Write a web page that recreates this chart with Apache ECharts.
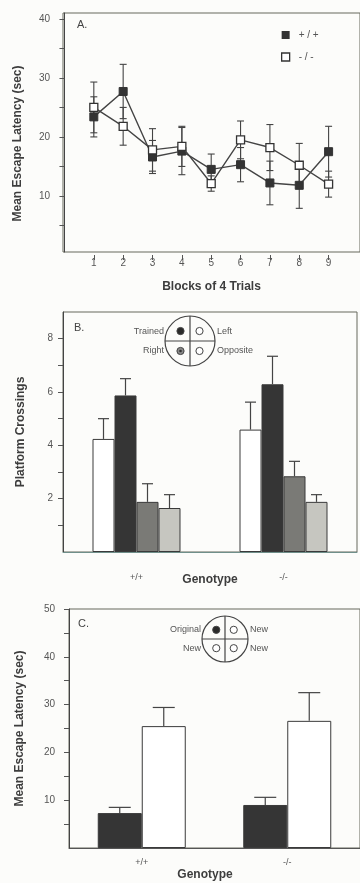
<!DOCTYPE html>
<html><head><meta charset="utf-8">
<script src="https://cdn.jsdelivr.net/npm/echarts@6/dist/echarts.min.js"></script>
<style>html,body{margin:0;padding:0;background:#fcfcfa}#c{width:360px;height:883px}</style>
</head><body><div id="c"></div>
<script>
// ---- Panel A data ----
const blocks = [1, 2, 3, 4, 5, 6, 7, 8, 9];
const wtLatency = [23.4, 27.7, 16.6, 17.6, 14.5, 15.3, 12.2, 11.8, 17.5];
const wtSem     = [3.4, 4.6, 2.8, 4.0, 2.6, 2.9, 3.7, 3.9, 4.3];
const koLatency = [25.0, 21.8, 17.8, 18.4, 12.1, 19.5, 18.2, 15.2, 12.0];
const koSem     = [4.3, 3.2, 3.6, 3.4, 1.3, 3.2, 3.9, 3.7, 2.2];
const aTicks = [5, 10, 15, 20, 25, 30, 35, 40];
const aLabels = [10, 20, 30, 40];
// ---- Panel B data ----
const genotypes = ['+/+', '-/-'];
const quadrants = ['Left', 'Trained', 'Right', 'Opposite'];
const crossMean = [[4.24, 4.59], [5.87, 6.29], [1.88, 2.84], [1.65, 1.88]];
const crossSem  = [[0.76, 1.03], [0.63, 1.05], [0.68, 0.56], [0.50, 0.27]];
const bTicks = [1, 2, 3, 4, 5, 6, 7, 8];
const bLabels = [2, 4, 6, 8];
// ---- Panel C data ----
const platforms = ['Original', 'New'];
const latMean = [[7.3, 9.0], [25.5, 26.6]];
const latSem  = [[1.2, 1.6], [3.9, 5.9]];
const cTicks = [5, 10, 15, 20, 25, 30, 35, 40, 45, 50];
const cLabels = [10, 20, 30, 40, 50];

const FRAME = '#66695c';
const labelStyle = { fontSize: 10, color: '#555', fontFamily: 'Liberation Sans, Arial' };
const nameStyle = { fontSize: 12, fontWeight: 'bold', color: '#3d3d3d', fontFamily: 'Liberation Sans, Arial' };

function errA(capHalf) {
  return function (params, api) {
    const x = api.value(0), m = api.value(1), e = api.value(2);
    const t = api.coord([x, m + e]), b = api.coord([x, m - e]);
    const st = { stroke: '#444', lineWidth: 1.1 };
    return { type: 'group', children: [
      { type: 'line', shape: { x1: t[0], y1: t[1], x2: b[0], y2: b[1] }, style: st },
      { type: 'line', shape: { x1: t[0] - capHalf, y1: t[1], x2: t[0] + capHalf, y2: t[1] }, style: st },
      { type: 'line', shape: { x1: b[0] - capHalf, y1: b[1], x2: b[0] + capHalf, y2: b[1] }, style: st }
    ]};
  };
}
function errUp(offset, capHalf) {
  return function (params, api) {
    const x = api.value(0), m = api.value(1), e = api.value(2);
    const t = api.coord([x, m + e]), b = api.coord([x, m]);
    const cx = t[0] + offset;
    const st = { stroke: '#444', lineWidth: 1.2 };
    return { type: 'group', children: [
      { type: 'line', shape: { x1: cx, y1: t[1], x2: cx, y2: b[1] }, style: st },
      { type: 'line', shape: { x1: cx - capHalf, y1: t[1], x2: cx + capHalf, y2: t[1] }, style: st }
    ]};
  };
}

const series = [];
// Panel A
series.push({ type: 'custom', name: 'errWT', xAxisIndex: 0, yAxisIndex: 0, z: 2,
  data: blocks.map((b, i) => [b, wtLatency[i], wtSem[i]]), renderItem: errA(3.5), encode: { x: 0, y: 1 } });
series.push({ type: 'custom', name: 'errKO', xAxisIndex: 0, yAxisIndex: 0, z: 2,
  data: blocks.map((b, i) => [b, koLatency[i], koSem[i]]), renderItem: errA(3.5), encode: { x: 0, y: 1 } });
series.push({ type: 'line', name: '+ / +', xAxisIndex: 0, yAxisIndex: 0, z: 5,
  data: blocks.map((b, i) => [b, wtLatency[i]]), symbol: 'rect', symbolSize: 8,
  lineStyle: { color: '#444', width: 1.4 }, itemStyle: { color: '#333', borderColor: '#333' } });
series.push({ type: 'line', name: '- / -', xAxisIndex: 0, yAxisIndex: 0, z: 6,
  data: blocks.map((b, i) => [b, koLatency[i]]), symbol: 'rect', symbolSize: 8,
  lineStyle: { color: '#444', width: 1.4 }, itemStyle: { color: '#fff', borderColor: '#333', borderWidth: 1.3 } });
// Panel B
const bFill = ['#ffffff', '#353535', '#7a7a76', '#c6c6c0'];
const bW = 22;
quadrants.forEach((q, k) => {
  series.push({ type: 'bar', name: q, xAxisIndex: 1, yAxisIndex: 1, data: crossMean[k],
    barWidth: bW, barGap: '0%', itemStyle: { color: bFill[k], borderColor: '#3a3a3a', borderWidth: 1 } });
});
quadrants.forEach((q, k) => {
  series.push({ type: 'custom', name: 'err' + q, xAxisIndex: 1, yAxisIndex: 1, z: 3,
    data: genotypes.map((g, i) => [i, crossMean[k][i], crossSem[k][i]]),
    renderItem: errUp((k - 1.5) * bW, 5.5), encode: { x: 0, y: 1 } });
});
// Panel C
const cFill = ['#353535', '#ffffff'];
const cW = 44;
platforms.forEach((p, k) => {
  series.push({ type: 'bar', name: p, xAxisIndex: 2, yAxisIndex: 2, data: latMean[k],
    barWidth: cW, barGap: '0%', itemStyle: { color: cFill[k], borderColor: '#3a3a3a', borderWidth: 1 } });
});
platforms.forEach((p, k) => {
  series.push({ type: 'custom', name: 'err' + p, xAxisIndex: 2, yAxisIndex: 2, z: 3,
    data: genotypes.map((g, i) => [i, latMean[k][i], latSem[k][i]]),
    renderItem: errUp((k - 0.5) * cW, 11), encode: { x: 0, y: 1 } });
});

function inset(cx, cy, r, labels, fills) {
  const els = [
    { type: 'circle', shape: { cx, cy, r }, style: { fill: 'none', stroke: '#444', lineWidth: 1.2 } },
    { type: 'line', shape: { x1: cx - r, y1: cy, x2: cx + r, y2: cy }, style: { stroke: '#444', lineWidth: 1.2 } },
    { type: 'line', shape: { x1: cx, y1: cy - r, x2: cx, y2: cy + r }, style: { stroke: '#444', lineWidth: 1.2 } }
  ];
  const d = r * 0.38;
  const pos = [[cx - d, cy - d * 1.05], [cx + d, cy - d * 1.05], [cx - d, cy + d * 1.05], [cx + d, cy + d * 1.05]];
  pos.forEach((p, i) => {
    els.push({ type: 'circle', shape: { cx: p[0], cy: p[1], r: 3.6 }, style: { fill: fills[i], stroke: '#444', lineWidth: 1 } });
    if (fills[i] === '#888') els.push({ type: 'circle', shape: { cx: p[0], cy: p[1], r: 1.3 }, style: { fill: '#333' } });
  });
  const ts = { fontSize: 9, fill: '#555', fontFamily: 'Liberation Sans, Arial' };
  els.push({ type: 'text', x: cx - r - 1, y: cy - d * 1.05, style: Object.assign({ text: labels[0], align: 'right', verticalAlign: 'middle' }, ts) });
  els.push({ type: 'text', x: cx + r + 2, y: cy - d * 1.05, style: Object.assign({ text: labels[1], align: 'left', verticalAlign: 'middle' }, ts) });
  els.push({ type: 'text', x: cx - r - 1, y: cy + d * 1.05, style: Object.assign({ text: labels[2], align: 'right', verticalAlign: 'middle' }, ts) });
  els.push({ type: 'text', x: cx + r + 2, y: cy + d * 1.05, style: Object.assign({ text: labels[3], align: 'left', verticalAlign: 'middle' }, ts) });
  return els;
}

const graphics = [].concat(
  inset(190, 341, 25, ['Trained', 'Left', 'Right', 'Opposite'], ['#2a2a2a', '#fff', '#888', '#fff']),
  inset(225, 639, 23, ['Original', 'New', 'New', 'New'], ['#2a2a2a', '#fff', '#fff', '#fff'])
);

const gridBase = { show: true, borderColor: FRAME, borderWidth: 1, backgroundColor: 'transparent' };
const option = {
  backgroundColor: '#fcfcfa',
  animation: false,
  title: [
    { text: 'A.', left: 77, top: 19, padding: 0, textStyle: { fontSize: 11, fontWeight: 'normal', color: '#444' } },
    { text: 'B.', left: 74, top: 322, padding: 0, textStyle: { fontSize: 11, fontWeight: 'normal', color: '#444' } },
    { text: 'C.', left: 78, top: 618, padding: 0, textStyle: { fontSize: 11, fontWeight: 'normal', color: '#444' } }
  ],
  legend: {
    data: [
      { name: '+ / +', icon: 'rect', itemStyle: { color: '#333', borderColor: '#333' } },
      { name: '- / -', icon: 'rect', itemStyle: { color: '#fff', borderColor: '#333', borderWidth: 1.3 } }
    ],
    orient: 'vertical', left: 281, top: 30, itemWidth: 8, itemHeight: 8, itemGap: 12, padding: 0,
    selectedMode: false, textStyle: { fontSize: 10, color: '#555', padding: [0, 0, 0, 4] }
  },
  grid: [
    Object.assign({ left: 63, top: 13, width: 299, height: 239 }, gridBase),
    Object.assign({ left: 63, top: 312, width: 294, height: 240 }, gridBase),
    Object.assign({ left: 69, top: 609, width: 295, height: 239 }, gridBase)
  ],
  xAxis: [
    { type: 'value', gridIndex: 0, min: -0.05, max: 10.07, offset: 3,
      name: 'Blocks of 4 Trials', nameLocation: 'middle', nameGap: 26, nameMoveOverlap: false, nameTextStyle: nameStyle,
      axisLine: { show: false }, splitLine: { show: false },
      axisTick: { show: true, length: 5, customValues: blocks, lineStyle: { color: '#555' } },
      axisLabel: { customValues: blocks, margin: 3, ...labelStyle } },
    { type: 'category', gridIndex: 1, data: genotypes,
      name: 'Genotype', nameLocation: 'middle', nameGap: 22, nameMoveOverlap: false, nameTextStyle: nameStyle,
      axisLine: { show: true, lineStyle: { color: '#6f8f8a' } }, axisTick: { show: false },
      axisLabel: { margin: 21, fontSize: 9, color: '#555' } },
    { type: 'category', gridIndex: 2, data: genotypes,
      name: 'Genotype', nameLocation: 'middle', nameGap: 21, nameMoveOverlap: false, nameTextStyle: Object.assign({ padding: [0, 19, 0, 0] }, nameStyle),
      axisLine: { show: true, lineStyle: { color: '#555' } }, axisTick: { show: false },
      axisLabel: { margin: 10, fontSize: 9, color: '#555' } }
  ],
  yAxis: [
    { type: 'value', gridIndex: 0, min: 0.5, max: 41,
      name: 'Mean Escape Latency (sec)', nameLocation: 'middle', nameGap: 39, nameMoveOverlap: false,
      nameTextStyle: Object.assign({ padding: [0, 22, 0, 0] }, nameStyle),
      axisLine: { show: true, lineStyle: { color: '#444' } }, splitLine: { show: false },
      axisTick: { show: true, length: 5, customValues: aTicks, lineStyle: { color: '#555' } },
      axisLabel: { customValues: aLabels, margin: 13, ...labelStyle } },
    { type: 'value', gridIndex: 1, min: 0, max: 9,
      name: 'Platform Crossings', nameLocation: 'middle', nameGap: 36, nameMoveOverlap: false, nameTextStyle: nameStyle,
      axisLine: { show: true, lineStyle: { color: '#444' } }, splitLine: { show: false },
      axisTick: { show: true, length: 5, customValues: bTicks, lineStyle: { color: '#555' } },
      axisLabel: { customValues: bLabels, margin: 10, ...labelStyle } },
    { type: 'value', gridIndex: 2, min: 0, max: 50,
      name: 'Mean Escape Latency (sec)', nameLocation: 'middle', nameGap: 43, nameMoveOverlap: false, nameTextStyle: nameStyle,
      axisLine: { show: true, lineStyle: { color: '#444' } }, splitLine: { show: false },
      axisTick: { show: true, length: 5, customValues: cTicks, lineStyle: { color: '#555' } },
      axisLabel: { customValues: cLabels, margin: 14, ...labelStyle } }
  ],
  graphic: graphics,
  series: series
};
const chart = echarts.init(document.getElementById('c'), null, { renderer: 'canvas' });
chart.setOption(option);
</script></body></html>
